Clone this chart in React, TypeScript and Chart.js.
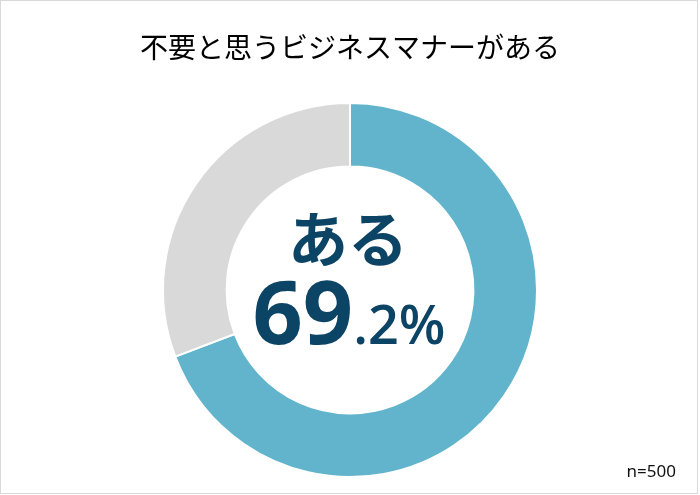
import React, { useEffect, useRef } from "react";
import { Chart, registerables } from "chart.js";

Chart.register(...registerables);

const categories = ["ある", "ない"];
const shares = [69.2, 30.8];
const sliceColors = ["#62b4cc", "#d9d9d9"];
const headline = "不要と思うビジネスマナーがある";
const sampleNote = "n=500";

const navy = "#0c4466";

const centerLabel = {
  id: "centerLabel",
  afterDraw(chart: any) {
    const { ctx, chartArea } = chart;
    const cx = (chartArea.left + chartArea.right) / 2;
    const cy = (chartArea.top + chartArea.bottom) / 2;
    ctx.save();
    ctx.fillStyle = navy;
    ctx.textBaseline = "alphabetic";

    // category name
    ctx.textAlign = "center";
    ctx.font = "700 60px 'Noto Sans CJK JP'";
    ctx.fillText(categories[0], cx - 2, cy - 28);

    // percentage: integer part large, decimals smaller
    const value = shares[0].toFixed(1);
    const [intPart, decPart] = value.split(".");
    const big = "700 88px 'Open Sans'";
    const small = "600 54px 'Open Sans'";
    ctx.font = big;
    const wBig = ctx.measureText(intPart).width;
    ctx.font = small;
    const rest = "." + decPart + "%";
    const wSmall = ctx.measureText(rest).width;
    const startX = cx - 1 - (wBig + wSmall) / 2;
    const baseY = cy + 54;
    ctx.textAlign = "left";
    ctx.font = big;
    ctx.fillText(intPart, startX, baseY);
    ctx.font = small;
    ctx.fillText(rest, startX + wBig, baseY);

    // sample size
    ctx.fillStyle = "#111";
    ctx.textAlign = "right";
    ctx.font = "400 17px 'Noto Sans'";
    ctx.fillText(sampleNote, 676, 477);
    ctx.restore();
  },
};

export default function App() {
  const canvasRef = useRef<HTMLCanvasElement | null>(null);

  useEffect(() => {
    if (!canvasRef.current) return;
    const chart = new Chart(canvasRef.current, {
      type: "doughnut",
      data: {
        labels: categories,
        datasets: [
          {
            data: shares,
            backgroundColor: sliceColors,
            borderColor: "#ffffff",
            borderWidth: 2,
          },
        ],
      },
      options: {
        animation: false,
        responsive: false,
        maintainAspectRatio: false,
        cutout: "66%",
        layout: { padding: { top: 0, bottom: 17, left: 0, right: 0 } },
        plugins: {
          legend: { display: false },
          tooltip: { enabled: false },
          title: {
            display: true,
            text: headline,
            color: "#000000",
            font: { family: "'Noto Sans CJK JP'", size: 28, weight: "normal", lineHeight: 1.2 },
            padding: { top: 31, bottom: 37.4 },
          },
        },
      },
      plugins: [centerLabel],
    });
    return () => chart.destroy();
  }, []);

  return (
    <div
      style={{
        position: "fixed",
        left: 0,
        top: 0,
        width: 700,
        height: 495,
        background: "#ffffff",
      }}
    >
      <canvas ref={canvasRef} width={700} height={495} style={{ display: "block" }} />
      <div
        style={{
          position: "absolute",
          left: 0,
          top: 0,
          width: 696,
          height: 492,
          border: "1.5px solid #d9d9d9",
          pointerEvents: "none",
        }}
      />
    </div>
  );
}
